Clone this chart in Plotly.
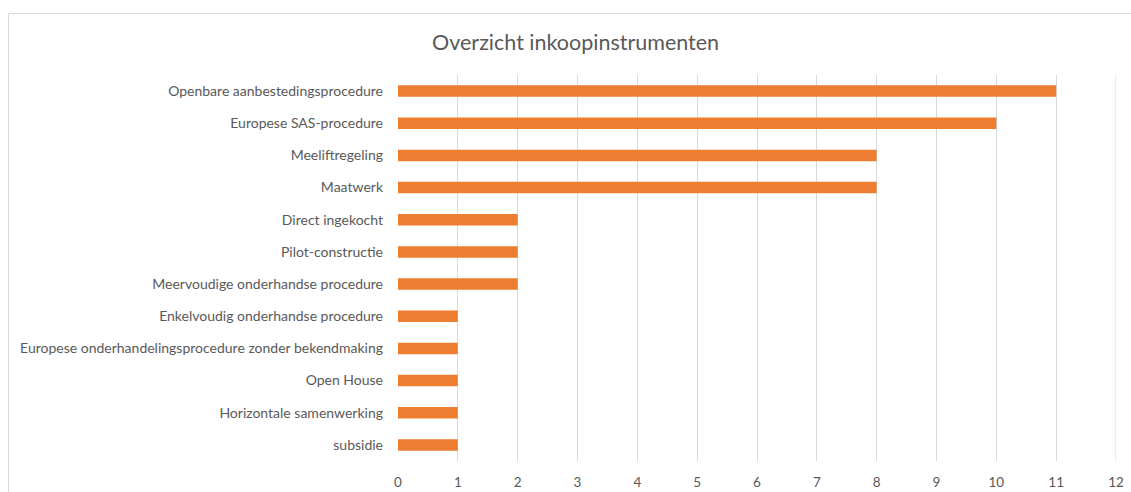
import plotly.graph_objects as go

categories = [
    "Openbare aanbestedingsprocedure",
    "Europese SAS-procedure",
    "Meeliftregeling",
    "Maatwerk",
    "Direct ingekocht",
    "Pilot-constructie",
    "Meervoudige onderhandse procedure",
    "Enkelvoudig onderhandse procedure",
    "Europese onderhandelingsprocedure zonder bekendmaking",
    "Open House",
    "Horizontale samenwerking",
    "subsidie",
]
values = [11, 10, 8, 8, 2, 2, 2, 1, 1, 1, 1, 1]
title_text = "Overzicht inkoopinstrumenten"
x_ticks = list(range(0, 13))

# body margin removed via post_script, so figure coords = page coords
W, H = 1131, 492
L, R, T, B = 398, 15, 75, 31
pw, ph = W - L - R, H - T - B

fig = go.Figure(go.Bar(
    x=values, y=categories, orientation="h",
    marker=dict(color="#ED7D31", line=dict(width=0)),
    hoverinfo="x+y",
))

font_family = "Lato, 'Open Sans', sans-serif"
fig.update_layout(
    width=W, height=H,
    margin=dict(l=L, r=R, t=T, b=B, pad=0),
    paper_bgcolor="white", plot_bgcolor="white",
    bargap=0.64,
    showlegend=False,
    font=dict(family=font_family, size=14, color="#595959"),
    xaxis=dict(
        range=[0, 12], tickvals=x_ticks, showgrid=True, gridcolor="#D9D9D9",
        gridwidth=1, zeroline=False, showline=False, ticks="",
        ticklabelstandoff=11, fixedrange=True, tickfont=dict(size=13.5),
        automargin=False, ticklabeloverflow="allow",
    ),
    yaxis=dict(
        autorange="reversed", showgrid=False, showline=False, ticks="",
        ticklabelstandoff=14, fixedrange=True, automargin=False,
    ),
    annotations=[dict(
        text=title_text, xref="paper", yref="paper",
        x=(575 - L) / pw, y=(H - B - 42) / ph, xanchor="center", yanchor="middle",
        showarrow=False, font=dict(size=21.5, color="#595959", family=font_family),
    )],
    shapes=[
        dict(
            type="rect", xref="paper", yref="paper",
            x0=(8.5 - L) / pw, x1=(1140 - L) / pw,
            y0=(H - B - 500) / ph, y1=(H - B - 13.5) / ph,
            line=dict(color="#D9D9D9", width=1), fillcolor="rgba(0,0,0,0)", layer="below",
        ),
        dict(
            type="line", xref="x", yref="paper", x0=x_ticks[-1], x1=x_ticks[-1],
            y0=0, y1=1, line=dict(color="#D9D9D9", width=1), layer="below",
        ),
    ],
)

fig.write_html(
    "out.html",
    config={"displayModeBar": False},
    post_script="document.body.style.margin='0';document.body.style.overflow='hidden';",
)
